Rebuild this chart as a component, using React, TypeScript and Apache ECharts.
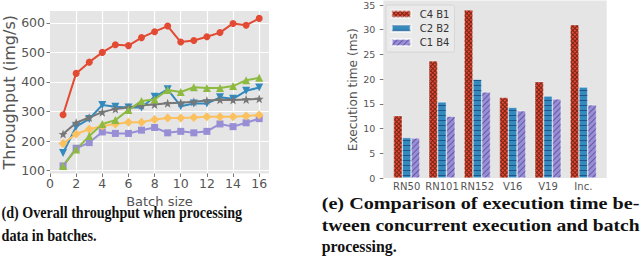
import React, { useEffect, useRef } from 'react';
import * as echarts from 'echarts';

// ---- left chart data (throughput vs batch size) ----
const batchSizes = [1, 2, 3, 4, 5, 6, 7, 8, 9, 10, 11, 12, 13, 14, 15, 16];
const redSeries = [289, 429, 467, 500, 526, 523, 550, 570, 589, 535, 540, 553, 567, 598, 592, 615];
const blueSeries = [160, 249, 275, 322, 316, 314, 314, 350, 375, 318, 327, 327, 348, 343, 370, 381];
const purpleSeries = [116, 176, 195, 231, 226, 226, 237, 246, 228, 233, 228, 233, 258, 249, 262, 276];
const graySeries = [224, 262, 280, 298, 309, 314, 321, 324, 328, 330, 333, 337, 340, 339, 341, 343];
const yellowSeries = [192, 224, 240, 251, 258, 264, 264, 273, 278, 278, 280, 282, 282, 282, 285, 288];
const greenSeries = [116, 172, 217, 258, 271, 305, 336, 341, 373, 366, 382, 380, 380, 386, 406, 414];

// ---- right chart data (execution time) ----
const barCategories = ['RN50', 'RN101', 'RN152', 'V16', 'V19', 'Inc.'];
const c4b1 = [12.6, 23.7, 34.0, 16.3, 19.5, 31.0];
const c2b2 = [8.2, 15.4, 20.0, 14.3, 16.6, 18.4];
const c1b4 = [8.1, 12.5, 17.4, 13.6, 16.0, 14.8];
const barNames = ['C4 B1', 'C2 B2', 'C1 B4'];

// ---- captions ----
const captionLines = [
  '(d) Overall throughput when processing',
  'data in batches.',
  '(e) Comparison of execution time be-',
  'tween concurrent execution and batch',
  'processing.',
];

const STAR = 'path://M12,0 L14.9,8.1 L23.4,8.3 L16.7,13.5 L19.1,21.7 L12,16.9 L4.9,21.7 L7.3,13.5 L0.6,8.3 L9.1,8.1 Z';

export default function App() {
  const ref = useRef<HTMLDivElement>(null);

  useEffect(() => {
    document.body.style.margin = '0';
    const chart = echarts.init(ref.current!, null, { renderer: 'svg' });

    const capFontSize = 17.5;
    const capFamily = '"Liberation Serif", serif';
    const ctx = document.createElement('canvas').getContext('2d')!;
    ctx.font = `bold ${capFontSize}px ${capFamily}`;
    const capLayout = [
      { x: 1.5, base: 217, w: 241 },
      { x: 1.5, base: 240, w: 95 },
      { x: 321.7, base: 208.3, w: 318 },
      { x: 321.7, base: 229.8, w: 318 },
      { x: 321.7, base: 251, w: 75 },
    ];
    const graphic: any[] = captionLines.map((t, i) => {
      const m = ctx.measureText(t).width || 1;
      const L = capLayout[i];
      return {
        type: 'text',
        id: 'cap' + i,
        x: L.x,
        y: L.base - 0.3 * capFontSize,
        scaleX: L.w / m,
        style: {
          text: t,
          fontSize: capFontSize,
          fontWeight: 'bold',
          fontFamily: capFamily,
          fill: '#111',
          align: 'left',
          verticalAlign: 'middle',
        },
      };
    });

    const tickColor = '#555555';
    const dv = 'DejaVu Sans';

    const lineDefs = [
      { data: redSeries, color: '#E24A33', symbol: 'circle', size: 7, rot: 0 },
      { data: blueSeries, color: '#348ABD', symbol: 'triangle', size: 8, rot: 180 },
      { data: purpleSeries, color: '#988ED5', symbol: 'rect', size: 7, rot: 0 },
      { data: graySeries, color: '#777777', symbol: STAR, size: 9, rot: 0 },
      { data: yellowSeries, color: '#FBC15E', symbol: 'diamond', size: 9, rot: 0 },
      { data: greenSeries, color: '#8EBA42', symbol: 'triangle', size: 8, rot: 0 },
    ];

    const lineSeries = lineDefs.map((d) => ({
      type: 'line',
      xAxisIndex: 0,
      yAxisIndex: 0,
      data: batchSizes.map((b, i) => [b, d.data[i]]),
      symbol: d.symbol,
      symbolSize: d.size,
      symbolRotate: d.rot,
      showAllSymbol: true,
      lineStyle: { width: 2, color: d.color },
      itemStyle: { color: d.color },
      emphasis: { disabled: true },
    }));

    const decals = [
      {
        symbol: 'rect', symbolSize: 1, color: 'rgba(80,20,10,0.7)',
        dashArrayX: [[1, 0], [1, 2]], dashArrayY: [1, 0, 2, 0], rotation: Math.PI / 4,
      },
      {
        symbol: 'rect', symbolSize: 1, color: 'rgba(15,40,90,0.55)',
        dashArrayX: [1, 0], dashArrayY: [1, 4], rotation: 0,
      },
      {
        symbol: 'rect', symbolSize: 1, color: 'rgba(60,45,120,0.55)',
        dashArrayX: [1, 0], dashArrayY: [1, 3], rotation: -Math.PI / 4,
      },
    ];
    const barColors = ['#E24A33', '#348ABD', '#988ED5'];
    const barData = [c4b1, c2b2, c1b4];
    const barSeries = barData.map((d, i) => ({
      type: 'bar',
      name: barNames[i],
      xAxisIndex: 1,
      yAxisIndex: 1,
      data: d,
      barWidth: 8.8,
      barGap: '0%',
      itemStyle: {
        color: barColors[i],
        borderColor: 'rgba(255,255,255,0.45)',
        borderWidth: 0.6,
        decal: decals[i],
      },
      emphasis: { disabled: true },
    }));

    chart.setOption({
      animation: false,
      backgroundColor: '#ffffff',
      grid: [
        { left: 48.3, top: 11, width: 220.7, height: 162.5, show: true, backgroundColor: '#E5E5E5', borderWidth: 0, containLabel: false },
        { left: 383.3, top: 0.6, width: 223.4, height: 177.4, show: true, backgroundColor: '#E5E5E5', borderWidth: 0, containLabel: false },
        { left: 389, top: 0.6, width: 212, height: 177.4, show: false, containLabel: false },
      ],
      xAxis: [
        {
          type: 'value', gridIndex: 0, min: 0, max: 16.75, interval: 2,
          axisLine: { show: false },
          axisTick: { show: true, length: 3.5, lineStyle: { color: tickColor, width: 0.8 } },
          axisLabel: { color: tickColor, fontSize: 12.5, fontFamily: dv, margin: 3.5, showMaxLabel: false },
          splitLine: { show: true, showMaxLine: false, showMinLine: false, lineStyle: { color: '#ffffff', width: 1.2 } },
          name: 'Batch size', nameLocation: 'middle', nameGap: 16.5,
          nameTextStyle: { color: tickColor, fontSize: 13, fontFamily: dv },
        },
        {
          type: 'category', gridIndex: 2, data: barCategories,
          axisLine: { show: false },
          axisTick: { show: false },
          axisLabel: { color: tickColor, fontSize: 10, fontFamily: dv, margin: 3, interval: 0 },
          splitLine: { show: false },
        },
      ],
      yAxis: [
        {
          type: 'value', gridIndex: 0, min: 90.5, max: 640,
          axisLine: { show: false },
          axisTick: { show: true, length: 3.5, lineStyle: { color: tickColor, width: 0.8 } },
          axisLabel: {
            color: tickColor, fontSize: 12.5, fontFamily: dv, margin: 5,
            showMinLabel: false, showMaxLabel: false,
            formatter: (v: number) => (Math.abs(v % 100) < 1e-6 ? String(v) : ''),
          },
          splitLine: { show: true, showMinLine: false, showMaxLine: false, lineStyle: { color: '#ffffff', width: 1.2 } },
          name: 'Throughput (img/s)', nameLocation: 'middle', nameGap: 33,
          nameTextStyle: { color: tickColor, fontSize: 16, fontFamily: dv },
        },
        {
          type: 'value', gridIndex: 2, min: 0, max: 35.7, interval: 5, offset: 5.7,
          axisLine: { show: false },
          axisTick: { show: true, length: 3.5, lineStyle: { color: tickColor, width: 0.8 } },
          axisLabel: { color: tickColor, fontSize: 9.5, fontFamily: dv, margin: 8, showMaxLabel: false },
          splitLine: { show: false },
          name: 'Execution time (ms)', nameLocation: 'middle', nameGap: 24,
          nameTextStyle: { color: tickColor, fontSize: 12.2, fontFamily: dv },
        },
      ],
      legend: {
        data: barNames,
        orient: 'vertical',
        left: 386,
        top: 5,
        itemWidth: 19,
        itemHeight: 7,
        itemGap: 2.3,
        padding: [3, 5, 3.5, 4.7],
        backgroundColor: '#EAEAEA',
        borderColor: '#D2D2D2',
        borderWidth: 0.8,
        borderRadius: 2,
        icon: 'rect',
        selectedMode: false,
        textStyle: { color: '#333333', fontSize: 10, fontFamily: dv, lineHeight: 12, padding: [0, 0, 0, 4] },
      },
      series: [...lineSeries, ...barSeries],
      graphic,
    } as any);

    return () => chart.dispose();
  }, []);

  return <div ref={ref} style={{ width: 640, height: 258 }} />;
}
